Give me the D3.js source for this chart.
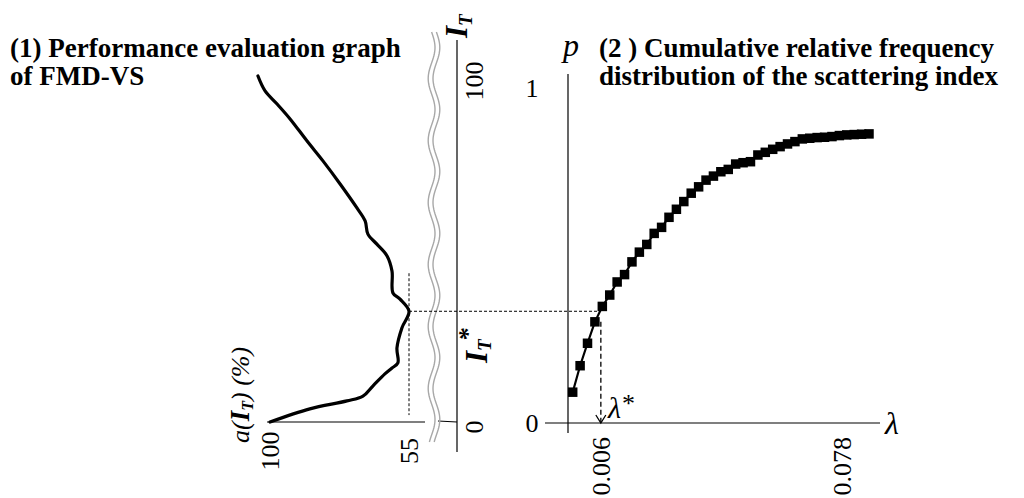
<!DOCTYPE html>
<html>
<head>
<meta charset="utf-8">
<script src="https://cdn.jsdelivr.net/npm/d3@7"></script>
<style>
  body { margin: 0; background: #fff; }
  text { font-family: "Liberation Serif", "Times New Roman", serif; fill: #000; }
</style>
</head>
<body>
<script>
var width = 1024, height = 498;

// (1) performance evaluation curve
const perfIT = [100, 95.7, 91.9, 87.6, 81.2, 75.4, 68.8, 61.8, 58.1, 54.3, 51.4, 48.0, 43.6, 37.3, 35.5,
                32, 27.2, 21.4, 17.1, 15.6, 13.9, 10.4, 7.5, 6.1, 3.8, 0];
const perfA  = [103.9, 101.6, 97.7, 93.5, 88.0, 82.8, 77.3, 71.8, 69.2, 68.3, 65.4, 62.1, 60.5, 60.2, 57.9,
                55, 57.3, 58.9, 58.6, 60.5, 62.8, 66.7, 69.9, 75.1, 87.1, 100];
const itTicks = [0, 100];
const aTicks = [100, 55];
const itStar = 32;

// (2) cumulative relative frequency, one value per bin
const cumP = [0.092, 0.171, 0.238, 0.302, 0.348, 0.382, 0.421, 0.443, 0.481, 0.510,
              0.533, 0.566, 0.584, 0.614, 0.638, 0.661, 0.686, 0.705, 0.725, 0.737,
              0.750, 0.757, 0.773, 0.777, 0.780, 0.800, 0.808, 0.817, 0.825, 0.833,
              0.840, 0.848, 0.850, 0.852, 0.853, 0.855, 0.858, 0.860, 0.861, 0.862, 0.863];
const lamTickPos = [3.8, 36.3];
const lamTickLabels = ["0.006", "0.078"];
const pTicks = [0, 1];
const lamStarPos = 3.8;

const svg = d3.select("body").append("svg")
  .attr("width", width)
  .attr("height", height);

const aScale = d3.scaleLinear().domain([100, 55]).range([270, 409]);
const itScale = d3.scaleLinear().domain([0, 100]).range([422, 76]);
const binScale = d3.scaleLinear().domain([0, cumP.length - 1]).range([572.7, 869]);
const pScale = d3.scaleLinear().domain([0, 1]).range([423, 88]);

// ---- titles
const titles = [
  {x: 10, lines: ["(1) Performance evaluation graph", "of FMD-VS"]},
  {x: 599, lines: ["(2 ) Cumulative relative frequency", "distribution of the scattering index"]}
];
titles.forEach(t => {
  t.lines.forEach((s, i) => {
    svg.append("text").attr("x", t.x).attr("y", 57 + i * 28)
      .attr("font-size", 27).attr("font-weight", "bold").text(s);
  });
});

// ---- left panel axes
const yAxisX = 457;
svg.append("line").attr("x1", yAxisX).attr("x2", yAxisX).attr("y1", 40).attr("y2", 452)
  .attr("stroke", "#000").attr("stroke-width", 1.2);
svg.append("line").attr("x1", aScale(100) - 3).attr("x2", 425)
  .attr("y1", itScale(0)).attr("y2", itScale(0))
  .attr("stroke", "#000").attr("stroke-width", 1.2);
svg.append("line").attr("x1", 438).attr("x2", yAxisX)
  .attr("y1", itScale(0) - 1).attr("y2", itScale(0))
  .attr("stroke", "#000").attr("stroke-width", 1.2);

// break symbol: two wavy grey strokes
const wave = d3.range(32, 443, 2);
[-2.4, 2.4].forEach(off => {
  svg.append("path")
    .attr("d", d3.line()(wave.map(y => [434 + off + 3.4 * Math.sin((y - 32) / 62 * 2 * Math.PI), y])))
    .attr("fill", "none").attr("stroke", "#a8a8a8").attr("stroke-width", 1.4);
});

itTicks.forEach(v => {
  svg.append("text")
    .attr("transform", `translate(483,${itScale(v) + 5}) rotate(-90)`)
    .attr("text-anchor", "middle").attr("font-size", 26).text(v);
});
aTicks.forEach(v => {
  svg.append("text")
    .attr("transform", `translate(${aScale(v) + 9},451) rotate(-90)`)
    .attr("text-anchor", "middle").attr("font-size", 26).text(v);
});

// I_T axis title
const itLab = svg.append("text")
  .attr("transform", "translate(467,38) rotate(-90)")
  .attr("font-size", 31).attr("font-weight", "bold").attr("font-style", "italic");
itLab.append("tspan").text("I");
itLab.append("tspan").attr("font-size", 19).attr("dy", 5).text("T");

// I_T* label
const starLab = svg.append("text")
  .attr("transform", "translate(487,363) rotate(-90)")
  .attr("font-size", 31).attr("font-weight", "bold").attr("font-style", "italic");
starLab.append("tspan").text("I");
starLab.append("tspan").attr("font-size", 19).attr("dy", 4).text("T");
starLab.append("tspan").attr("font-size", 26).attr("dx", -2).attr("dy", -15).text("*");

// a(I_T) (%) label
const aLab = svg.append("text")
  .attr("transform", "translate(249,443) rotate(-90)")
  .attr("font-size", 26).attr("font-style", "italic");
aLab.append("tspan").text("a(");
aLab.append("tspan").attr("font-weight", "bold").attr("font-size", 27).text("I");
aLab.append("tspan").attr("font-weight", "bold").attr("font-size", 16).attr("dy", 4).text("T");
aLab.append("tspan").attr("dy", -4).text(") (%)");

// dashed guides
svg.append("line").attr("x1", aScale(55)).attr("x2", aScale(55))
  .attr("y1", itScale(43)).attr("y2", itScale(2))
  .attr("stroke", "#000").attr("stroke-width", 1).attr("stroke-dasharray", "3,2");
svg.append("line").attr("x1", aScale(55)).attr("x2", binScale(lamStarPos))
  .attr("y1", itScale(itStar)).attr("y2", itScale(itStar))
  .attr("stroke", "#000").attr("stroke-width", 1).attr("stroke-dasharray", "3,2");

// performance curve
svg.append("path")
  .attr("d", d3.line().curve(d3.curveCatmullRom)
    .x((d, i) => aScale(perfA[i]))
    .y(d => itScale(d))(perfIT))
  .attr("fill", "none").attr("stroke", "#000").attr("stroke-width", 3.2)
  .attr("stroke-linejoin", "round").attr("stroke-linecap", "round");

// ---- right panel axes
const pAxisX = 568;
svg.append("line").attr("x1", pAxisX).attr("x2", pAxisX).attr("y1", 74).attr("y2", 433)
  .attr("stroke", "#000").attr("stroke-width", 1.2);
svg.append("line").attr("x1", 545).attr("x2", 880).attr("y1", pScale(0)).attr("y2", pScale(0))
  .attr("stroke", "#000").attr("stroke-width", 1.2);

pTicks.forEach(v => {
  svg.append("text").attr("x", 532).attr("y", pScale(v) + 9)
    .attr("text-anchor", "middle").attr("font-size", 26).text(v);
});
lamTickPos.forEach((v, i) => {
  svg.append("text")
    .attr("transform", `translate(${binScale(v) + 9},437) rotate(-90)`)
    .attr("text-anchor", "end").attr("font-size", 26).text(lamTickLabels[i]);
});

svg.append("text").attr("x", 563).attr("y", 56)
  .attr("font-size", 32).attr("font-style", "italic").text("p");
svg.append("text").attr("x", 885).attr("y", 434)
  .attr("font-size", 32).attr("font-style", "italic").text("λ");

const lamStar = svg.append("text").attr("x", 608).attr("y", 418).attr("font-size", 30);
lamStar.append("tspan").attr("font-style", "italic").text("λ");
lamStar.append("tspan").attr("font-size", 26).attr("dx", 1).attr("dy", -6).text("*");

// dashed arrow down to lambda*
const ax = binScale(lamStarPos);
svg.append("line").attr("x1", ax).attr("x2", ax)
  .attr("y1", pScale(cumP[3])).attr("y2", pScale(0) - 1)
  .attr("stroke", "#000").attr("stroke-width", 1.3).attr("stroke-dasharray", "5,3");
svg.append("path")
  .attr("d", `M${ax - 5},${pScale(0) - 8}L${ax},${pScale(0)}L${ax + 5},${pScale(0) - 8}`)
  .attr("fill", "none").attr("stroke", "#000").attr("stroke-width", 1.3);

// cumulative curve with square markers
svg.append("path")
  .attr("d", d3.line().x((d, i) => binScale(i)).y(d => pScale(d))(cumP))
  .attr("fill", "none").attr("stroke", "#000").attr("stroke-width", 2.2);
svg.selectAll("rect.pt")
  .data(cumP)
  .join("rect")
    .attr("class", "pt")
    .attr("x", (d, i) => binScale(i) - 4.75)
    .attr("y", d => pScale(d) - 4.75)
    .attr("width", 9.5)
    .attr("height", 9.5)
    .attr("fill", "#000");
</script>
</body>
</html>
